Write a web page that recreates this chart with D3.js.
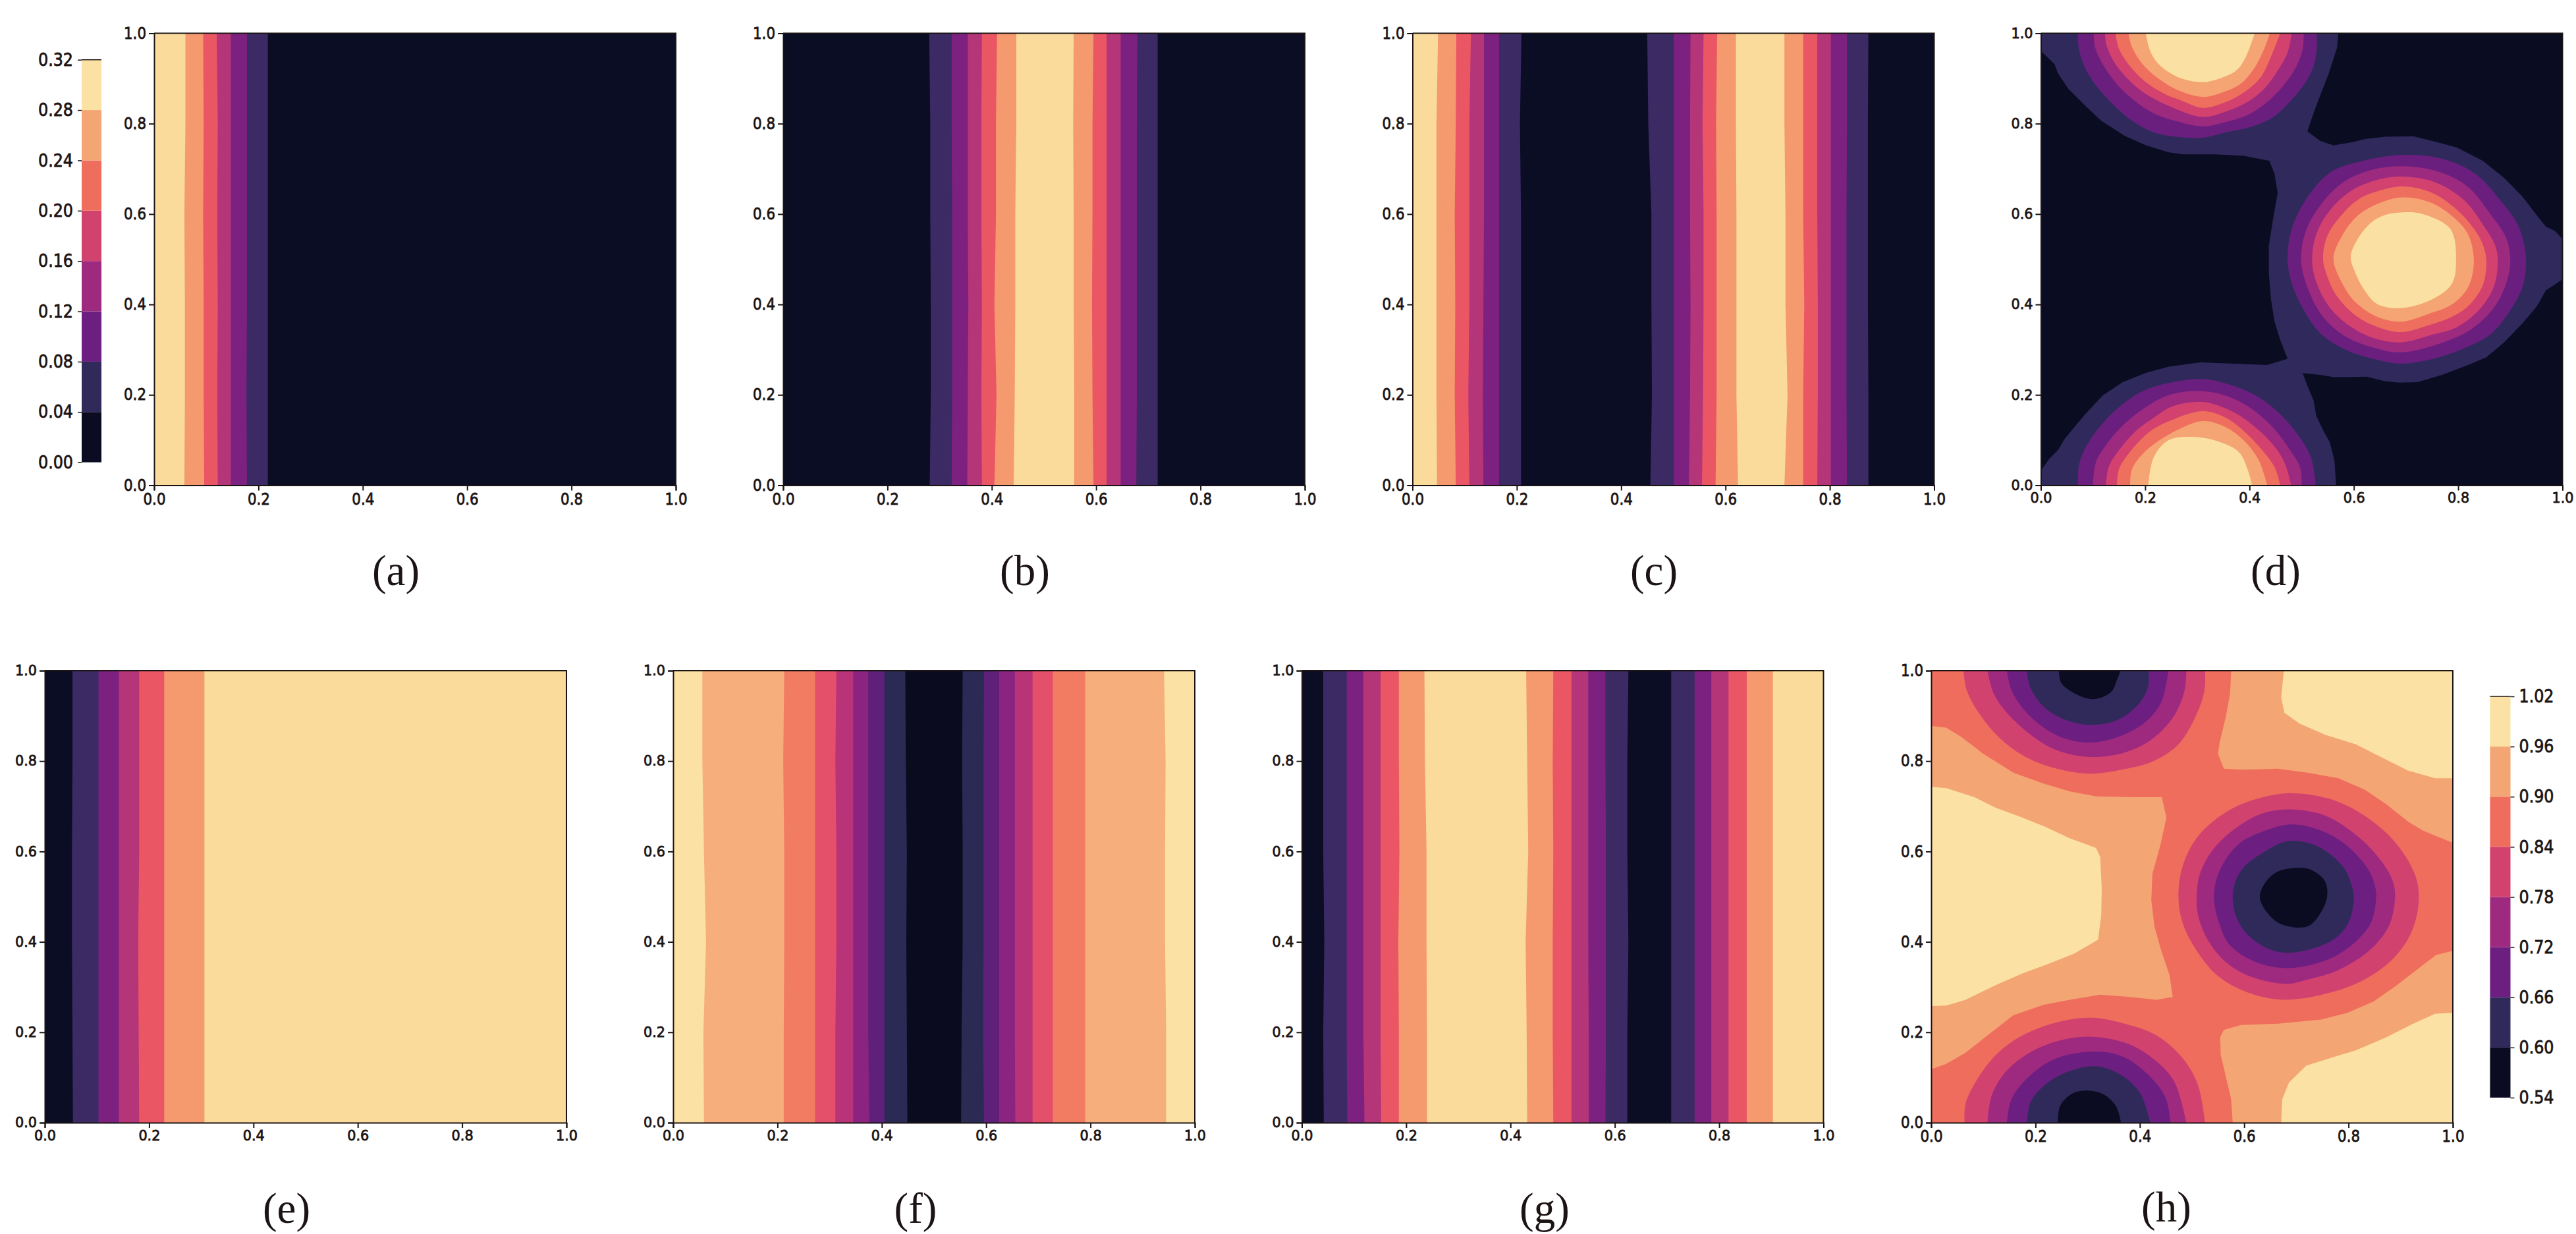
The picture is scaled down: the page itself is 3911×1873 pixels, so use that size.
<!DOCTYPE html>
<html>
<head>
<meta charset="utf-8">
<script src="https://cdn.jsdelivr.net/npm/d3@7"></script>
<style>
  body { margin: 0; background: #fff; }
  text { fill: #1c1414; }
</style>
</head>
<body>
<div id="chart"></div>
<script>
// y values where the vertical contour edges were read
const edgeY = [0, 0.2, 0.4, 0.6, 0.8, 1];

// colour levels, dark to light
const stripeColors = ['#0b0d25', '#3b2a63', '#7d2180', '#b43578', '#eb5664', '#f49a6e', '#fadb9c'];
const fColors = ['#0b0b20', '#2b2a54', '#5e2079', '#8b2480', '#b93379', '#e44f69', '#f27c62', '#f6ae7c', '#fce1a4'];
const dColors = ['#0a0c22', '#302a5c', '#6a1f7f', '#9c2a7f', '#d3426f', '#ef6f5e', '#f5a574', '#fae0a3'];
const hColors = ['#0b0b22', '#302a5a', '#6c1f80', '#9e2a7f', '#d2426f', '#ef6d5d', '#f4a574', '#fbe1a4'];

// colourbar levels
const lowTicks = [0, 0.04, 0.08, 0.12, 0.16, 0.2, 0.24, 0.28, 0.32];
const highTicks = [0.54, 0.6, 0.66, 0.72, 0.78, 0.84, 0.9, 0.96, 1.02];

// band levels from left to right, one more than edges
const aBands = [6, 5, 4, 3, 2, 1, 0];
const bBands = [0, 1, 2, 3, 4, 5, 6, 5, 4, 3, 2, 1, 0];
const cBands = [6, 5, 4, 3, 2, 1, 0, 1, 2, 3, 4, 5, 6, 5, 4, 3, 2, 1, 0];
const eBands = [0, 1, 2, 3, 4, 5, 6];
const fBands = [8, 7, 6, 5, 4, 3, 2, 1, 0, 1, 2, 3, 4, 5, 6, 7, 8];
const gBands = [0, 1, 2, 3, 4, 5, 6, 5, 4, 3, 2, 1, 0, 1, 2, 3, 4, 5, 6];

const aEdges = [
  [.058, .059, .059, .058, .060, .060],
  [.096, .095, .095, .094, .095, .094],
  [.122, .121, .122, .121, .122, .120],
  [.147, .147, .147, .147, .147, .147],
  [.178, .177, .178, .178, .178, .178],
  [.218, .218, .218, .218, .218, .218],
];
const bEdges = [
  [.281, .283, .283, .282, .282, .280],
  [.323, .324, .324, .324, .323, .323],
  [.353, .354, .355, .354, .354, .354],
  [.381, .380, .381, .380, .380, .381],
  [.405, .409, .405, .408, .408, .410],
  [.442, .444, .445, .445, .447, .447],
  [.558, .558, .557, .557, .556, .557],
  [.595, .593, .592, .593, .593, .595],
  [.620, .620, .620, .620, .620, .620],
  [.647, .647, .647, .647, .647, .647],
  [.677, .678, .678, .678, .678, .679],
  [.718, .718, .718, .718, .718, .718],
];
const cEdges = [
  [.047, .046, .046, .046, .046, .049],
  [.083, .081, .082, .081, .083, .084],
  [.109, .107, .109, .109, .109, .112],
  [.136, .135, .136, .137, .137, .137],
  [.166, .166, .166, .166, .166, .166],
  [.208, .208, .208, .208, .206, .209],
  [.456, .459, .458, .458, .452, .450],
  [.501, .501, .501, .501, .501, .501],
  [.530, .532, .533, .532, .532, .533],
  [.555, .557, .558, .558, .556, .558],
  [.581, .583, .583, .583, .582, .584],
  [.624, .621, .621, .621, .620, .620],
  [.713, .719, .715, .715, .713, .713],
  [.749, .749, .751, .749, .749, .749],
  [.776, .777, .777, .776, .776, .776],
  [.802, .802, .802, .802, .802, .802],
  [.833, .832, .832, .832, .833, .833],
  [.874, .874, .873, .873, .873, .874],
];
const eEdges = [
  [.054, .053, .052, .052, .053, .053],
  [.103, .103, .103, .103, .103, .103],
  [.142, .142, .142, .142, .142, .142],
  [.181, .180, .179, .181, .181, .181],
  [.229, .229, .229, .229, .229, .229],
  [.306, .306, .306, .306, .306, .306],
];
const fEdges = [
  [.059, .058, .063, .059, .056, .056],
  [.212, .212, .213, .213, .211, .213],
  [.272, .272, .272, .272, .272, .272],
  [.311, .311, .313, .313, .311, .313],
  [.345, .345, .345, .345, .345, .345],
  [.376, .374, .374, .374, .374, .374],
  [.405, .405, .405, .405, .405, .405],
  [.449, .448, .447, .448, .446, .445],
  [.552, .553, .555, .555, .554, .555],
  [.596, .594, .595, .595, .595, .596],
  [.625, .625, .625, .625, .625, .625],
  [.656, .655, .655, .655, .655, .655],
  [.689, .689, .689, .689, .689, .689],
  [.728, .728, .728, .728, .728, .728],
  [.790, .790, .790, .790, .790, .790],
  [.945, .945, .943, .943, .944, .941],
];
const gEdges = [
  [.042, .041, .043, .041, .041, .041],
  [.087, .086, .086, .086, .086, .086],
  [.120, .118, .118, .118, .118, .118],
  [.152, .151, .151, .151, .151, .151],
  [.186, .186, .185, .187, .186, .186],
  [.240, .240, .239, .239, .236, .235],
  [.432, .431, .429, .434, .432, .430],
  [.482, .481, .481, .482, .481, .482],
  [.517, .517, .517, .517, .517, .517],
  [.550, .550, .549, .549, .549, .549],
  [.582, .583, .583, .583, .582, .582],
  [.624, .624, .626, .624, .624, .626],
  [.708, .708, .708, .708, .708, .708],
  [.753, .753, .753, .753, .753, .753],
  [.785, .785, .785, .785, .785, .785],
  [.818, .818, .818, .818, .818, .818],
  [.853, .853, .853, .853, .853, .853],
  [.903, .903, .903, .903, .903, .903],
];

// panel d, contour of the lowest level around all three peaks
const dOuter = [[0,1],[.570,1],[.568,.969],[.552,.911],[.532,.852],[.520,.814],[.511,.783],[.535,.762],[.561,.752],[.597,.759],[.622,.766],[.660,.771],[.715,.772],[.757,.760],[.798,.747],[.847,.718],[.888,.680],[.923,.639],[.951,.597],[.968,.572],[.985,.563],[1,.545],[1,.456],[.985,.444],[.968,.431],[.951,.396],[.923,.358],[.888,.316],[.854,.283],[.819,.266],[.771,.245],[.722,.228],[.687,.227],[.660,.230],[.625,.240],[.563,.239],[.535,.244],[.502,.248],[.511,.220],[.523,.187],[.528,.153],[.542,.120],[.554,.095],[.563,.053],[.566,0],[0,0],[0,.032],[.015,.057],[.033,.078],[.046,.103],[.085,.157],[.119,.199],[.157,.228],[.202,.249],[.244,.262],[.306,.272],[.369,.269],[.434,.266],[.473,.280],[.459,.321],[.448,.362],[.441,.413],[.437,.471],[.437,.530],[.445,.588],[.454,.647],[.448,.689],[.438,.718],[.389,.729],[.334,.732],[.272,.732],[.244,.737],[.202,.752],[.161,.773],[.116,.806],[.085,.840],[.053,.877],[.033,.911],[.026,.932],[0,.961]];

// panel d, rings of each peak from level 2 up to level 7
const dTopPeak = [
  [[.071,1],[.073,.965],[.085,.923],[.105,.886],[.137,.844],[.175,.806],[.216,.781],[.258,.771],[.310,.769],[.355,.781],[.403,.793],[.445,.814],[.480,.852],[.511,.898],[.525,.936],[.529,.973],[.529,1]],
  [[.101,1],[.105,.965],[.123,.923],[.147,.886],[.178,.852],[.216,.823],[.258,.806],[.310,.794],[.355,.804],[.396,.819],[.434,.848],[.469,.890],[.490,.927],[.502,.965],[.504,1]],
  [[.123,1],[.126,.973],[.143,.932],[.171,.894],[.202,.865],[.244,.840],[.310,.815],[.355,.827],[.396,.848],[.428,.877],[.455,.919],[.473,.957],[.481,1]],
  [[.143,1],[.150,.965],[.171,.927],[.199,.894],[.237,.866],[.272,.850],[.310,.835],[.355,.848],[.389,.869],[.421,.902],[.441,.948],[.459,1]],
  [[.168,1],[.175,.969],[.195,.932],[.223,.902],[.265,.873],[.312,.859],[.348,.869],[.383,.888],[.407,.919],[.428,.965],[.439,1]],
  [[.201,1],[.211,.957],[.230,.927],[.265,.902],[.310,.892],[.348,.902],[.376,.919],[.393,.948],[.410,1]],
];
const dMidPeak = [
  [[.694,.731],[.771,.722],[.833,.689],[.881,.630],[.916,.572],[.930,.501],[.923,.438],[.895,.379],[.861,.333],[.805,.300],[.750,.279],[.691,.269],[.639,.279],[.584,.300],[.535,.337],[.500,.396],[.480,.450],[.473,.501],[.480,.563],[.507,.630],[.556,.693],[.618,.718]],
  [[.694,.706],[.764,.693],[.819,.660],[.861,.601],[.892,.547],[.900,.496],[.892,.446],[.868,.392],[.826,.346],[.771,.316],[.691,.294],[.639,.304],[.584,.329],[.542,.371],[.514,.429],[.499,.496],[.507,.559],[.535,.618],[.577,.668],[.632,.697]],
  [[.694,.683],[.757,.670],[.812,.630],[.850,.572],[.871,.530],[.876,.496],[.868,.438],[.840,.388],[.798,.350],[.750,.333],[.691,.316],[.639,.325],[.590,.354],[.552,.396],[.528,.450],[.520,.496],[.528,.555],[.552,.605],[.594,.651],[.646,.676]],
  [[.694,.661],[.750,.647],[.798,.609],[.833,.563],[.848,.530],[.854,.496],[.847,.442],[.819,.396],[.785,.371],[.743,.354],[.691,.339],[.646,.350],[.604,.375],[.566,.421],[.549,.463],[.541,.501],[.549,.551],[.573,.593],[.611,.634],[.653,.653]],
  [[.694,.637],[.746,.626],[.791,.593],[.819,.555],[.830,.496],[.819,.438],[.788,.400],[.743,.379],[.691,.362],[.646,.372],[.604,.404],[.580,.442],[.561,.501],[.577,.551],[.608,.597],[.653,.626]],
  [[.694,.604],[.729,.601],[.785,.567],[.796,.496],[.788,.446],[.753,.413],[.691,.392],[.646,.400],[.622,.429],[.604,.467],[.594,.505],[.604,.538],[.632,.580],[.660,.598]],
];
const dLowPeak = [
  [[.071,0],[.073,.044],[.085,.082],[.112,.128],[.147,.170],[.195,.208],[.244,.226],[.311,.235],[.369,.220],[.417,.195],[.459,.157],[.493,.111],[.518,.061],[.527,0]],
  [[.100,0],[.105,.049],[.123,.086],[.150,.124],[.188,.162],[.244,.199],[.311,.208],[.362,.195],[.403,.170],[.445,.128],[.480,.074],[.497,.040],[.500,0]],
  [[.125,0],[.130,.040],[.150,.078],[.182,.120],[.216,.149],[.251,.174],[.311,.184],[.362,.166],[.403,.136],[.441,.095],[.466,.053],[.480,0]],
  [[.146,0],[.150,.036],[.171,.074],[.206,.116],[.244,.141],[.311,.164],[.355,.149],[.389,.120],[.424,.078],[.448,.040],[.459,0]],
  [[.171,0],[.175,.036],[.195,.069],[.227,.099],[.265,.124],[.311,.142],[.355,.128],[.389,.099],[.417,.057],[.434,0]],
  [[.206,0],[.216,.061],[.244,.099],[.286,.107],[.334,.099],[.379,.074],[.396,.036],[.405,0]],
];

// panel h, the three highest patches and the contour that joins the wells
const hHighLeft = [[0,.743],[.029,.740],[.083,.720],[.125,.696],[.166,.679],[.216,.656],[.266,.629],[.316,.608],[.324,.588],[.327,.517],[.326,.459],[.320,.405],[.274,.374],[.224,.351],[.175,.330],[.125,.305],[.066,.272],[.029,.259],[0,.258]];
const hHighTop = [[.676,1],[.671,.941],[.677,.907],[.706,.883],[.756,.858],[.814,.837],[.864,.808],[.914,.779],[.966,.762],[1,.762],[1,1]];
const hHighLow = [[.671,0],[.673,.052],[.686,.089],[.719,.126],[.765,.143],[.814,.160],[.873,.189],[.922,.218],[.966,.241],[1,.243],[1,0]];
const hOuter = [[0,1],[.575,1],[.573,.949],[.565,.899],[.553,.841],[.550,.816],[.561,.783],[.598,.781],[.665,.783],[.723,.774],[.781,.762],[.831,.737],[.873,.704],[.914,.666],[.943,.646],[1,.619],[1,.380],[.968,.371],[.935,.342],[.889,.301],[.848,.268],[.798,.243],[.748,.228],[.665,.219],[.594,.216],[.561,.205],[.554,.189],[.555,.151],[.565,.101],[.575,.052],[.578,0],[0,0],[0,.118],[.029,.130],[.066,.155],[.108,.193],[.158,.238],[.216,.261],[.266,.272],[.324,.283],[.382,.278],[.432,.272],[.463,.278],[.457,.326],[.440,.384],[.428,.434],[.422,.492],[.424,.550],[.440,.617],[.451,.675],[.442,.720],[.382,.720],[.316,.722],[.266,.733],[.216,.750],[.158,.774],[.100,.816],[.058,.853],[.029,.874],[0,.878]];

// panel h, rings of each well from level 4 down to level 0
const hTopWell = [
  [[.062,1],[.068,.957],[.091,.907],[.133,.849],[.183,.808],[.241,.783],[.307,.772],[.374,.783],[.424,.799],[.474,.837],[.507,.899],[.524,.957],[.525,1]],
  [[.108,1],[.120,.949],[.145,.907],[.191,.858],[.241,.824],[.307,.809],[.374,.820],[.424,.849],[.465,.899],[.486,.957],[.489,1]],
  [[.145,1],[.154,.957],[.179,.912],[.216,.874],[.258,.849],[.307,.841],[.357,.853],[.407,.883],[.440,.928],[.455,1]],
  [[.183,1],[.191,.961],[.216,.920],[.258,.891],[.307,.880],[.357,.891],[.399,.928],[.416,.966],[.417,1]],
  [[.245,1],[.251,.970],[.307,.937],[.345,.953],[.357,.982],[.363,1]],
];
const hMidWell = [
  [[.686,.729],[.765,.716],[.831,.679],[.889,.621],[.927,.550],[.935,.496],[.922,.425],[.889,.367],[.839,.322],[.781,.293],[.681,.272],[.607,.288],[.548,.326],[.507,.384],[.482,.442],[.474,.500],[.482,.567],[.511,.633],[.565,.687],[.623,.716]],
  [[.686,.693],[.756,.679],[.814,.637],[.860,.583],[.885,.534],[.889,.496],[.877,.434],[.839,.380],[.781,.338],[.723,.317],[.681,.307],[.615,.322],[.565,.355],[.528,.409],[.511,.463],[.509,.500],[.515,.550],[.540,.604],[.582,.650],[.632,.683]],
  [[.690,.660],[.748,.646],[.798,.612],[.839,.558],[.852,.517],[.853,.496],[.843,.442],[.814,.401],[.765,.363],[.686,.342],[.623,.355],[.573,.392],[.553,.438],[.542,.500],[.553,.558],[.590,.617],[.640,.646]],
  [[.686,.623],[.740,.612],[.789,.567],[.806,.525],[.810,.492],[.798,.438],[.765,.401],[.686,.376],[.640,.388],[.594,.434],[.578,.500],[.594,.558],[.640,.600]],
  [[.656,.550],[.706,.564],[.731,.558],[.755,.534],[.759,.500],[.748,.467],[.723,.435],[.686,.434],[.656,.450],[.630,.500]],
];
const hLowWell = [
  [[.064,0],[.066,.043],[.091,.101],[.125,.151],[.175,.193],[.241,.222],[.307,.232],[.374,.218],[.432,.193],[.482,.143],[.511,.085],[.525,0]],
  [[.108,0],[.116,.060],[.141,.110],[.183,.151],[.241,.180],[.307,.190],[.374,.176],[.424,.143],[.465,.093],[.489,0]],
  [[.145,0],[.154,.052],[.183,.097],[.233,.139],[.307,.157],[.366,.147],[.416,.106],[.449,.056],[.459,0]],
  [[.184,0],[.191,.047],[.224,.089],[.266,.114],[.312,.125],[.357,.110],[.399,.068],[.420,0]],
  [[.243,0],[.248,.039],[.278,.068],[.324,.066],[.353,.039],[.364,0]],
];

const panelTicks = [0, 0.2, 0.4, 0.6, 0.8, 1];

const plotW = 792;
const plotH = 686;
const width = 3911;
const height = 1873;

// peaks cut by the panel edge stay open, the middle one closes on itself
const peakFills = (rings, color, curve) => rings.map((r, i) => [r, color(i), curve]);

// stripes: [levels, edges, colours], fills: [[polygon, colour, curve], ...]
const panels = [
  { name: '(a)', left: 234, top: 50.5, labelX: 601, labelY: 888, narrow: true, stripes: [aBands, aEdges, stripeColors] },
  { name: '(b)', left: 1189, top: 50.5, labelX: 1556, labelY: 888, narrow: true, stripes: [bBands, bEdges, stripeColors] },
  { name: '(c)', left: 2144.5, top: 50.5, labelX: 2511, labelY: 888, narrow: true, stripes: [cBands, cEdges, stripeColors] },
  {
    name: '(d)', left: 3098.5, top: 50.5, labelX: 3455, labelY: 888, narrow: false, base: dColors[0],
    fills: [
      [dOuter, dColors[1], d3.curveLinear],
      ...peakFills(dTopPeak, (i) => dColors[i + 2], d3.curveCatmullRom),
      ...peakFills(dMidPeak, (i) => dColors[i + 2], d3.curveCatmullRomClosed),
      ...peakFills(dLowPeak, (i) => dColors[i + 2], d3.curveCatmullRom),
    ],
  },
  { name: '(e)', left: 68, top: 1018, labelX: 435, labelY: 1856, narrow: false, stripes: [eBands, eEdges, stripeColors] },
  { name: '(f)', left: 1022, top: 1018, labelX: 1390, labelY: 1856, narrow: false, stripes: [fBands, fEdges, fColors] },
  { name: '(g)', left: 1976.5, top: 1018, labelX: 2345, labelY: 1856, narrow: false, stripes: [gBands, gEdges, stripeColors] },
  {
    name: '(h)', left: 2932, top: 1018, labelX: 3289, labelY: 1854, narrow: true, base: hColors[6],
    fills: [
      [hHighLeft, hColors[7], d3.curveLinear],
      [hHighTop, hColors[7], d3.curveLinear],
      [hHighLow, hColors[7], d3.curveLinear],
      [hOuter, hColors[5], d3.curveLinear],
      ...peakFills(hTopWell, (i) => hColors[4 - i], d3.curveCatmullRom),
      ...peakFills(hMidWell, (i) => hColors[4 - i], d3.curveCatmullRomClosed),
      ...peakFills(hLowWell, (i) => hColors[4 - i], d3.curveCatmullRom),
    ],
  },
];

const svg = d3
  .select('#chart')
  .append('svg')
  .attr('width', width)
  .attr('height', height)
  .style('display', 'block');

const xScale = d3.scaleLinear().domain([0, 1]).range([0, plotW]);
const yScale = d3.scaleLinear().domain([0, 1]).range([plotH, 0]);

const ring = d3
  .line()
  .x((d) => xScale(d[0]))
  .y((d) => yScale(d[1]));

const edgeArea = d3
  .area()
  .y((d) => yScale(d[1]))
  .x0((d) => xScale(d[0]))
  .x1(xScale(1));

function styleAxis(axis, fontSize, labelWidth) {
  axis.selectAll('path, line').attr('stroke', '#1c1414').attr('stroke-width', 2);
  axis
    .selectAll('text')
    .style('font-family', '"DejaVu Sans"')
    .style('font-size', fontSize + 'px')
    .attr('stroke', '#1c1414')
    .attr('stroke-width', 0.8)
    .attr('textLength', labelWidth)
    .attr('lengthAdjust', 'spacingAndGlyphs');
}

panels.forEach((p) => {
  const g = svg.append('g').attr('transform', `translate(${p.left},${p.top})`);

  const baseColor = p.stripes ? p.stripes[2][p.stripes[0][0]] : p.base;
  g.append('rect')
    .attr('x', xScale(0))
    .attr('y', yScale(1))
    .attr('width', xScale(1) - xScale(0))
    .attr('height', yScale(0) - yScale(1))
    .attr('fill', baseColor);

  if (p.stripes) {
    const [levels, edges, colors] = p.stripes;
    g.selectAll('path.band')
      .data(edges)
      .enter()
      .append('path')
      .attr('class', 'band')
      .attr('d', (e) => edgeArea(e.map((x, i) => [x, edgeY[i]])))
      .attr('fill', (e, i) => colors[levels[i + 1]]);
  } else {
    g.selectAll('path.fill')
      .data(p.fills)
      .enter()
      .append('path')
      .attr('class', 'fill')
      .attr('d', (d) => ring.curve(d[2])(d[0]) + 'Z')
      .attr('fill', (d) => d[1]);
  }

  const fontSize = p.narrow ? 24 : 21;
  const labelW = p.narrow ? 34 : 33;

  const xAxis = g
    .append('g')
    .attr('transform', `translate(0,${plotH})`)
    .call(d3.axisBottom(xScale).tickValues(panelTicks).tickFormat(d3.format('.1f')).tickSize(8).tickPadding(4));
  styleAxis(xAxis, fontSize, labelW);

  const yAxis = g
    .append('g')
    .call(d3.axisLeft(yScale).tickValues(panelTicks).tickFormat(d3.format('.1f')).tickSize(8).tickPadding(4));
  styleAxis(yAxis, fontSize, labelW);

  // top and right spines
  g.append('path')
    .attr('d', ring.curve(d3.curveLinear)([[0, 1], [1, 1], [1, 0]]))
    .attr('fill', 'none')
    .attr('stroke', '#1c1414')
    .attr('stroke-width', 2);

  svg
    .append('text')
    .attr('x', p.labelX)
    .attr('y', p.labelY)
    .attr('text-anchor', 'middle')
    .style('font-family', '"Liberation Serif"')
    .style('font-size', '65px')
    .text(p.name);
});

function drawColorbar(left, top, barH, barW, ticks, format, colors, orient) {
  const scale = d3.scaleLinear().domain([ticks[0], ticks[ticks.length - 1]]).range([barH, 0]);
  const g = svg.append('g').attr('transform', `translate(${left},${top})`);

  g.selectAll('rect')
    .data(d3.pairs(ticks))
    .enter()
    .append('rect')
    .attr('x', 0)
    .attr('y', (d) => scale(d[1]))
    .attr('width', barW)
    .attr('height', (d) => scale(d[0]) - scale(d[1]))
    .attr('fill', (d, i) => colors[i]);

  const axis = g
    .append('g')
    .attr('transform', orient === 'left' ? 'translate(0,0)' : `translate(${barW},0)`)
    .call(
      (orient === 'left' ? d3.axisLeft(scale) : d3.axisRight(scale))
        .tickValues(ticks)
        .tickFormat(format)
        .tickSize(6)
        .tickPadding(7)
        .tickSizeOuter(0)
    );
  styleAxis(axis, 27, 53);
  axis.selectAll('line').attr('stroke-width', 1.5);
  axis.select('.domain').attr('stroke', 'none');

  g.append('line')
    .attr('x1', 0)
    .attr('x2', barW)
    .attr('y1', scale(ticks[ticks.length - 1]))
    .attr('y2', scale(ticks[ticks.length - 1]))
    .attr('stroke', '#1c1414')
    .attr('stroke-width', 1.5);
}

drawColorbar(124, 90.7, 611, 30, lowTicks, d3.format('.2f'), hColors, 'left');
drawColorbar(3780.5, 1057, 609, 31, highTicks, d3.format('.2f'), hColors, 'right');
</script>
</body>
</html>
